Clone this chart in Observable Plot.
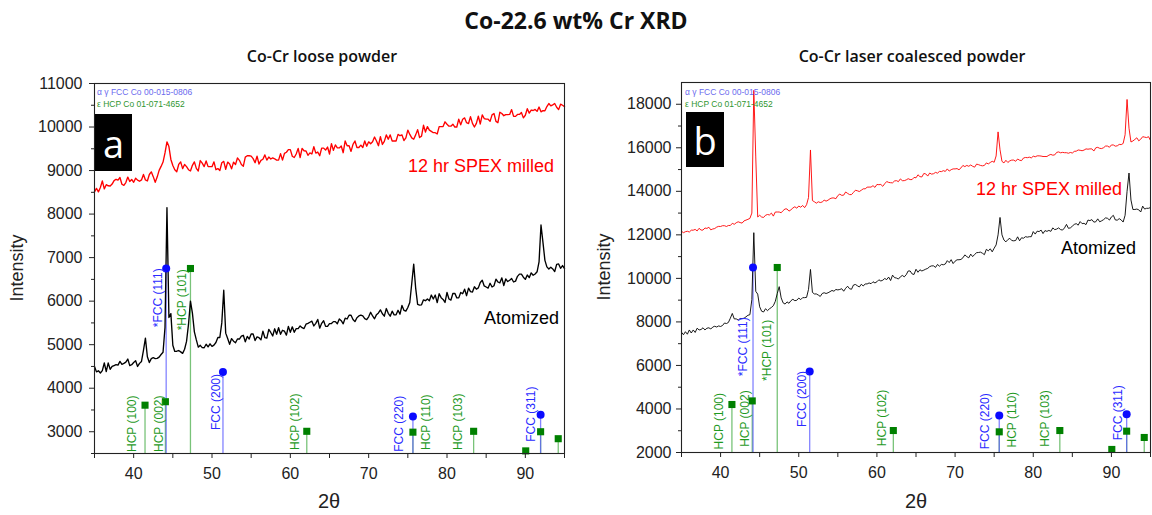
<!DOCTYPE html>
<html><head><meta charset="utf-8">
<script src="https://cdn.jsdelivr.net/npm/d3@7"></script>
<script src="https://cdn.jsdelivr.net/npm/@observablehq/plot@0.6"></script>
<style>
body{margin:0;background:#fff;}
#wrap{position:relative;width:1152px;height:515px;overflow:hidden;font-family:"Liberation Sans",Arial,sans-serif;color:#222;}
.p{position:absolute;top:0;}
.t{position:absolute;white-space:nowrap;line-height:1;}
.c{transform:translate(-50%,-50%);}
.r{transform:translate(-100%,-50%);}
.l{transform:translate(0,-50%);}
.box{position:absolute;background:#000;color:#fff;font-family:"Open Sans",sans-serif;font-size:38px;display:flex;align-items:center;justify-content:center;line-height:1;}
</style></head><body><div id="wrap"></div>
<script>
// scan grid (2θ, 0.25° step)
const twoTheta = d3.range(241).map(i => 35 + i * 0.25);

const looseMilled = [
8510,8590,8510,8610, 8760,8580,8675,8650, 8645,8690,8770,8800, 8780,8840,8685,8660,
8725,8850,8750,8795, 8730,8825,8780,8755, 8785,8910,8785,8760, 8910,8970,8860,8730,
8850,9005,9095,9195, 9405,9660,9550,9255, 9117,9020,8973,9140, 9200,9045,9140,9090,
9020,8990,9120,9200, 9050,8990,9230,9170, 9090,9220,9090,9090, 9090,9200,9020,9045,
9000,9180,9210,9030, 9195,9150,9040,9195, 9140,9290,9235,9140, 9100,9310,9340,9340,
9330,9275,9180,9330, 9150,9235,9260,9360, 9240,9310,9265,9290, 9270,9240,9240,9390,
9240,9395,9420,9480, 9480,9330,9300,9380, 9510,9300,9510,9455, 9450,9350,9405,9380,
9550,9400,9425,9340, 9515,9515,9470,9540, 9380,9620,9465,9590, 9520,9520,9565,9410,
9680,9570,9570,9440, 9600,9680,9530,9530, 9585,9530,9680,9560, 9660,9615,9660,9770,
9680,9570,9780,9600, 9670,9820,9720,9820, 9680,9680,9680,9830, 9800,9820,9690,9750,
9930,9830,9750,9720, 9820,9940,9760,9790, 10040,9885,10010,9930, 9900,9870,9870,9840,
10010,10010,10010,10120, 10065,10020,10020,10065, 10000,10000,10180,10050, 10180,10210,10100,10080,
10240,10085,10000,10085, 10250,10070,10280,10195, 10180,10180,10130,10280, 10310,10130,10100,10340,
10310,10260,10285,10285, 10290,10400,10245,10245, 10290,10290,10335,10210, 10270,10420,10320,10390,
10380,10405,10360,10460, 10350,10375,10375,10470, 10540,10485,10510,10540, 10455,10400,10525,10500,
10470];

const looseAtomized = [
4500,4375,4400,4350, 4405,4580,4380,4580, 4435,4500,4520,4540, 4530,4615,4550,4570,
4600,4670,4520,4540, 4590,4630,4500,4570, 4615,4867,5150,4723, 4590,4680,4700,4680,
4685,4715,4775,4825, 5395,8150,5625,5713, 4985,4845,4850,4865, 4835,4800,4895,5075,
5465,6000,5725,5295, 5110,4943,4985,4933, 4930,5010,4950,5020, 4960,4990,5050,5165,
5165,5500,6250,5265, 5140,5010,5140,5080, 5045,5130,5130,5195, 5215,5065,5190,5130,
5245,5245,5095,5180, 5160,5110,5310,5160, 5150,5350,5280,5200, 5365,5240,5390,5240,
5330,5310,5220,5420, 5285,5410,5285,5370, 5370,5430,5390,5370, 5470,5490,5515,5540,
5430,5490,5580,5380, 5490,5550,5420,5420, 5485,5485,5530,5530, 5480,5590,5550,5480,
5610,5590,5675,5675, 5580,5530,5620,5660, 5680,5660,5600,5575, 5640,5745,5660,5595,
5690,5730,5800,5710, 5655,5830,5720,5655, 5770,5685,5685,5790, 5700,5900,5790,5770,
5855,5970,6405,6850, 6300,5925,5910,5915, 6030,6010,6050,6010, 6140,6050,6140,5965,
6170,6080,6040,5970, 6200,6050,6025,6175, 6180,6075,6075,6200, 6170,6275,6125,6300,
6220,6210,6330,6275, 6305,6430,6480,6350, 6325,6300,6410,6325, 6355,6505,6440,6420,
6535,6360,6510,6450, 6480,6520,6440,6460, 6570,6620,6620,6550, 6500,6600,6540,6650,
6595,6625,6675,6900, 7750,7350,6937,6787, 6740,6780,6740,6680, 6845,6855,6755,6817,
6750];

const laserMilled = [
12165,12100,12145,12165, 12130,12215,12215,12250, 12180,12300,12220,12220, 12315,12295,12350,12230,
12270,12290,12355,12390, 12385,12420,12420,12385, 12430,12430,12530,12485, 12555,12600,12565,12540,
12642,12677,12713,12757, 13000,18640,15580,12822, 12900,12820,12800,12900, 12935,12915,13000,12860,
13050,13050,13050,13015, 13115,13190,13190,13090, 13150,13235,13290,13225, 13325,13270,13350,13250,
13385,13715,15900,13575, 13520,13455,13520,13485, 13510,13595,13550,13595, 13660,13695,13695,13660,
13805,13870,13815,13825, 13970,13905,13850,13850, 13950,14050,14025,13990, 14050,14115,14115,14190,
14195,14195,14260,14180, 14315,14305,14315,14230, 14350,14450,14410,14395, 14390,14475,14490,14445,
14570,14490,14490,14525, 14580,14540,14540,14640, 14620,14760,14675,14660, 14820,14800,14700,14840,
14790,14810,14870,14835, 14915,14905,14950,14915, 15030,14930,14995,15030, 15030,15045,14990,15075,
15190,15135,15190,15150, 15210,15150,15110,15250, 15225,15190,15170,15190, 15305,15260,15325,15380,
15335,15625,16730,15908, 15375,15305,15425,15325, 15400,15435,15435,15380, 15485,15430,15410,15530,
15555,15545,15570,15535, 15615,15585,15630,15630, 15620,15600,15600,15600, 15660,15695,15660,15675,
15790,15810,15770,15790, 15775,15775,15750,15785, 15760,15835,15845,15900, 15885,15865,15895,15950,
15935,15950,15950,15850, 16000,16020,15975,15965, 16005,16080,16080,16025, 16130,16130,16075,16090,
16155,16147,16198,16600, 18220,16900,16267,16313, 16385,16460,16320,16395, 16510,16490,16470,16510,
16335];

const laserAtomized = [
7525,7410,7550,7435, 7630,7490,7630,7515, 7710,7630,7650,7730, 7630,7710,7730,7675,
7765,7800,7765,7815, 7790,7835,7950,7925, 7975,8172,8390,8138, 8140,8085,8155,8155,
8168,8235,8305,8332, 9022,12100,9405,9278, 8695,8492,8455,8605, 8518,8602,8665,8745,
8945,9305,9620,9105, 8875,8820,8920,8855, 8975,9040,8975,8995, 9095,9025,9115,9115,
9128,9495,10410,9355, 9285,9285,9235,9170, 9305,9340,9305,9340, 9390,9445,9410,9490,
9470,9490,9525,9410, 9545,9640,9525,9500, 9695,9720,9660,9605, 9730,9650,9745,9745,
9790,9755,9845,9790, 9845,9935,9880,9915, 9995,9945,10060,9900, 10150,10035,10015,9970,
10070,10135,10070,10170, 10340,10340,10205,10180, 10420,10280,10395,10340, 10380,10425,10460,10540,
10575,10575,10505,10640, 10560,10640,10625,10660, 10815,10725,10860,10680, 10790,10855,10855,10870,
10945,11080,11000,10945, 11115,11000,11100,11180, 11190,11205,11155,11090, 11335,11265,11360,11220,
11388,11538,12000,12800, 12000,11762,11678,11782, 11840,11740,11725,11740, 11910,11730,11865,11845,
11915,11895,11915,11915, 12150,12035,12170,12150, 12220,12060,12195,12160, 12205,12160,12320,12240,
12265,12320,12240,12220, 12320,12480,12300,12320, 12400,12480,12515,12445, 12610,12515,12530,12470,
12680,12655,12700,12585, 12600,12735,12600,12645, 12700,12780,12760,12680, 12825,12895,12685,12675,
12745,12685,12588,12900, 14000,14840,13600,13165, 13165,13185,13150,13050, 13320,13185,13220,13220,
13255];

// reference patterns (2θ) and stick heights per panel
const fccPeaks = [44.15, 51.4, 75.65, 91.95];
const hcpPeaks = [41.45, 44.05, 47.25, 62.1, 75.65, 83.4, 90.05, 91.95, 94.2];
const fccLoose = [6750, 4370, 3350, 3390];
const hcpLoose = [3610, 3690, 6750, 3010, 2990, 3010, 2560, 3000, 2840];
const fccLaser = [10500, 5720, 3700, 3760];
const hcpLaser = [4205, 4370, 10500, 3010, 2950, 3010, 2140, 2980, 2690];

const peakLabels = ["HCP (100)", "HCP (002)", "*FCC (111)", "*HCP (101)", "FCC (200)", "HCP (102)", "FCC (220)", "HCP (110)", "HCP (103)", "FCC (311)"];
const peakPhase  = ["HCP","HCP","FCC","HCP","FCC","HCP","FCC","HCP","HCP","FCC"];
const labelThetaLoose = [39.86, 43.26, 43.07, 46.23, 50.48, 60.64, 73.9, 77.3, 81.4, 90.75];
const labelBaseLoose  = [2535, 2535, 5400, 5330, 3040, 2580, 2540, 2580, 2580, 2770];
const labelThetaLaser = [39.86, 43.13, 42.9, 45.93, 50.4, 60.66, 73.9, 77.34, 81.54, 90.82];
const labelBaseLaser  = [2140, 2260, 5505, 5290, 3175, 2290, 2150, 2230, 2260, 2560];

const xMajor = [40, 50, 60, 70, 80, 90];
const xMinor = [35, 45, 55, 65, 75, 85, 95];
const yMajorLoose = [3000, 4000, 5000, 6000, 7000, 8000, 9000, 10000, 11000];
const yMinorLoose = [2500, 3500, 4500, 5500, 6500, 7500, 8500, 9500, 10500];
const yMajorLaser = [2000, 4000, 6000, 8000, 10000, 12000, 14000, 16000, 18000];
const yMinorLaser = [3000, 5000, 7000, 9000, 11000, 13000, 15000, 17000];

function panel(o) {
  const base = o.yDomain[0];
  const milled = twoTheta.map((t, i) => ({t, v: o.milled[i]}));
  const atom = twoTheta.map((t, i) => ({t, v: o.atomized[i]}));
  const fcc = fccPeaks.map((t, i) => ({t, v: o.fccI[i], base}));
  const hcp = hcpPeaks.map((t, i) => ({t, v: o.hcpI[i], base}));
  const labels = peakLabels.map((text, i) => ({text, phase: peakPhase[i], t: o.labelTheta[i], v: o.labelBase[i]}));
  return Plot.plot({
    width: 576, height: 515,
    marginLeft: o.ml, marginRight: o.mr, marginTop: o.mt, marginBottom: o.mb,
    x: {domain: [35, 95]},
    y: {domain: o.yDomain},
    style: {fontFamily: "'Liberation Sans', Arial, sans-serif", fontSize: "16px", color: "#222", background: "transparent", overflow: "visible"},
    marks: [
      Plot.ruleX(hcp, {x: "t", y1: "base", y2: "v", stroke: "#4caf4c", strokeWidth: 1.3, strokeOpacity: 0.75}),
      Plot.ruleX(fcc, {x: "t", y1: "base", y2: "v", stroke: "#5a5aff", strokeWidth: 1.3, strokeOpacity: 0.75}),
      Plot.line(milled, {x: "t", y: "v", stroke: "#ff0000", strokeWidth: o.lw}),
      Plot.line(atom, {x: "t", y: "v", stroke: "#000", strokeWidth: o.lw}),
      Plot.dot(hcp, {x: "t", y: "v", symbol: "square", r: 4, fill: "#008000", stroke: "none"}),
      Plot.dot(fcc, {x: "t", y: "v", symbol: "circle", r: 4, fill: "#0a0aff", stroke: "none"}),
      Plot.text(labels.filter(d => d.phase === "HCP"), {x: "t", y: "v", text: "text", rotate: -90, textAnchor: "start", lineAnchor: "middle", fill: "#1f9a1f", fontSize: 12}),
      Plot.text(labels.filter(d => d.phase === "FCC"), {x: "t", y: "v", text: "text", rotate: -90, textAnchor: "start", lineAnchor: "middle", fill: "#2a2aff", fontSize: 12}),
      Plot.axisX({ticks: xMajor, tickSize: 5, tickPadding: 9, label: null, tickFormat: "d", fontSize: 16}),
      Plot.axisX({ticks: xMinor, tickSize: 5, label: null, tickFormat: () => ""}),
      Plot.axisY({ticks: o.yMajor, tickSize: 5, tickPadding: o.pad, label: null, tickFormat: "d", fontSize: 16}),
      Plot.axisY({ticks: o.yMinor, tickSize: 3, label: null, tickFormat: () => ""}),
      Plot.frame({stroke: "#222", strokeWidth: 1.1})
    ]
  });
}

const wrap = document.getElementById("wrap");
function addPlot(svg, left) {
  const d = document.createElement("div");
  d.className = "p"; d.style.left = left + "px";
  d.appendChild(svg); wrap.appendChild(d);
}
addPlot(panel({milled: looseMilled, atomized: looseAtomized, fccI: fccLoose, hcpI: hcpLoose,
  labelTheta: labelThetaLoose, labelBase: labelBaseLoose, yDomain: [2500, 11000],
  yMajor: yMajorLoose, yMinor: yMinorLoose, ml: 94, mr: 12, mt: 83, mb: 62, pad: 7, lw: 1.35}), 0);
addPlot(panel({milled: laserMilled, atomized: laserAtomized, fccI: fccLaser, hcpI: hcpLaser,
  labelTheta: labelThetaLaser, labelBase: labelBaseLaser, yDomain: [2000, 19000],
  yMajor: yMajorLaser, yMinor: yMinorLaser, ml: 105, mr: 2, mt: 82, mb: 63, pad: 5, lw: 0.9}), 576);

function txt(s, x, y, cls, css) {
  const d = document.createElement("div");
  d.className = "t " + cls; d.textContent = s;
  d.style.left = x + "px"; d.style.top = y + "px";
  Object.assign(d.style, css || {});
  wrap.appendChild(d);
}
function box(s, x, y, w, h) {
  const d = document.createElement("div");
  d.className = "box"; d.textContent = s;
  Object.assign(d.style, {left: x + "px", top: y + "px", width: w + "px", height: h + "px"});
  wrap.appendChild(d);
}
const heading = {fontFamily: "'Open Sans', sans-serif"};
txt("Co-22.6 wt% Cr XRD", 576, 20, "c", {...heading, fontSize: "23px", fontWeight: "700", color: "#111"});
txt("Co-Cr loose powder", 322, 56, "c", {...heading, fontSize: "16px", fontWeight: "600", color: "#111"});
txt("Co-Cr laser coalesced powder", 912, 56, "c", {...heading, fontSize: "16px", fontWeight: "600", color: "#111"});
txt("Intensity", 17, 268, "c", {fontSize: "18px", transform: "translate(-50%,-50%) rotate(-90deg)"});
txt("Intensity", 604, 267, "c", {fontSize: "18px", transform: "translate(-50%,-50%) rotate(-90deg)"});
txt("2θ", 329, 501, "c", {fontSize: "20px"});
txt("2θ", 916, 501, "c", {fontSize: "20px"});
// panel a annotations
box("a", 95, 114, 37, 57);
txt("α γ FCC Co 00-015-0806", 97, 92, "l", {fontSize: "8.5px", color: "#6a6aee"});
txt("ε HCP Co 01-071-4652", 97, 104, "l", {fontSize: "8.5px", color: "#2f962f"});
txt("12 hr SPEX milled", 554, 166, "r", {fontSize: "18px", color: "#ff0000"});
txt("Atomized", 559, 318, "r", {fontSize: "18px", color: "#000"});
// panel b annotations
box("b", 686, 112, 38, 55);
txt("α γ FCC Co 00-015-0806", 685, 92, "l", {fontSize: "8.5px", color: "#6a6aee"});
txt("ε HCP Co 01-071-4652", 685, 104, "l", {fontSize: "8.5px", color: "#2f962f"});
txt("12 hr SPEX milled", 1122, 189, "r", {fontSize: "18px", color: "#ff0000"});
txt("Atomized", 1136, 248, "r", {fontSize: "18px", color: "#000"});
</script></body></html>
